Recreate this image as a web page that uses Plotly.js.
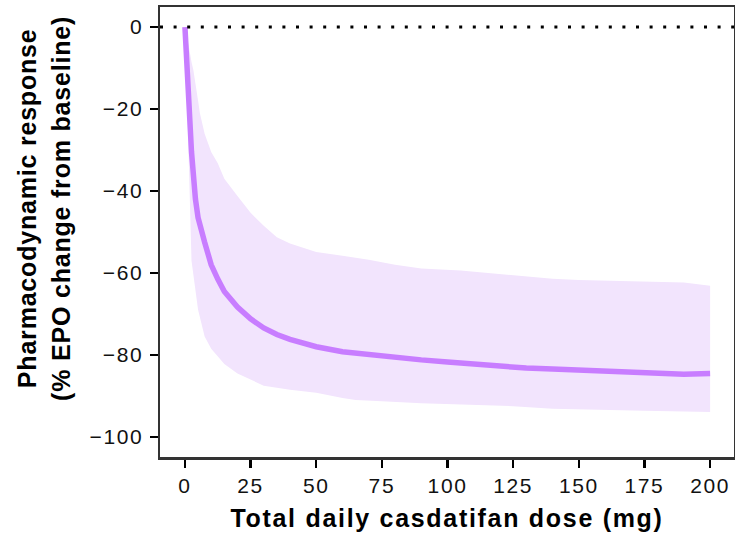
<!DOCTYPE html>
<html>
<head>
<meta charset="utf-8">
<script src="https://cdn.plot.ly/plotly-3.0.1.min.js"></script>
<style>
html,body{margin:0;padding:0;background:#fff;}
#chart{width:735px;height:539px;}
#chart .xtick text, #chart .ytick text{letter-spacing:1.6px;}
#chart .xtitle{letter-spacing:1.7px;}
#chart .annotation-text{letter-spacing:0.8px;}
</style>
</head>
<body>
<div id="chart"></div>
<script>
// Total daily dose (mg)
const doseLine = [0, 1, 2.5, 4, 5, 7.5, 10, 12.5, 15, 20, 25, 30, 35, 40, 50, 60, 75, 90, 100, 110, 120, 130, 140, 150, 175, 190, 200];
// Median EPO % change from baseline
const responseMedian = [0, -12, -30.5, -42, -46.5, -52.5, -58, -61.5, -64.5, -68.3, -71.2, -73.4, -75, -76.2, -78, -79.2, -80.3, -81.2, -81.7, -82.2, -82.9, -83.2, -83.4, -83.7, -84.2, -84.7, -84.5];

const doseBand = [0, 1, 2.5, 3.2, 5, 5.7, 7.5, 10, 12.5, 15, 20, 25, 30, 35, 40, 50, 60, 70, 80, 90, 105, 120, 140, 150, 175, 190, 200];
// Upper bound of prediction interval
const bandUpper = [0, -3, -8.5, -10.5, -18, -21, -26, -30.5, -33.2, -37, -41.2, -45.3, -48.5, -51.3, -52.8, -54.9, -55.8, -56.8, -58, -58.9, -59.4, -60.3, -61.4, -61.7, -62, -62.3, -63.1];

const doseLower = [0, 1, 2.5, 5, 7.5, 10, 15, 20, 30, 40, 50, 60, 65, 75, 90, 100, 125, 140, 150, 175, 200];
// Lower bound of prediction interval
const bandLower = [0, -22, -57, -69, -75.5, -78.5, -82.2, -84.5, -87.5, -88.5, -89.2, -90.5, -91, -91.3, -91.8, -92, -92.5, -93.1, -93.2, -93.6, -93.9];

const xTicks = [0, 25, 50, 75, 100, 125, 150, 175, 200];
const yTicks = [0, -20, -40, -60, -80, -100];

const polyX = doseBand.concat(doseLower.slice().reverse());
const polyY = bandUpper.concat(bandLower.slice().reverse());

const traces = [
  {
    x: polyX, y: polyY, type: 'scatter', mode: 'lines',
    fill: 'toself', fillcolor: 'rgb(242,228,253)',
    line: {width: 0, color: 'rgba(0,0,0,0)'}, hoverinfo: 'skip', showlegend: false
  },
  {
    x: doseLine, y: responseMedian, type: 'scatter', mode: 'lines',
    line: {color: 'rgb(200,125,255)', width: 5.5}, showlegend: false
  }
];

const fontFam = '"Liberation Sans", Arial, sans-serif';
const layout = {
  width: 735, height: 539,
  margin: {l: 160, r: 1, t: 7, b: 82},
  paper_bgcolor: '#fff', plot_bgcolor: '#fff',
  showlegend: false,
  font: {family: fontFam, size: 21, color: '#000'},
  xaxis: {
    range: [-9.5, 209.1], tickvals: xTicks, ticktext: xTicks.map(String),
    ticks: 'outside', ticklen: 8, tickwidth: 2.5, tickcolor: '#000',
    showgrid: false, zeroline: false,
    showline: true, linecolor: '#333', linewidth: 2.5, mirror: true,
    tickfont: {family: fontFam, size: 21, color: '#111'},
    title: {text: '<b>Total daily casdatifan dose (mg)</b>', font: {family: fontFam, size: 25, color: '#000'}, standoff: 14}
  },
  yaxis: {
    range: [-104.9, 4.9], tickvals: yTicks, ticktext: yTicks.map(v => v < 0 ? '\u2212' + Math.abs(v) : String(v)),
    ticks: 'outside', ticklen: 8, tickwidth: 2.5, tickcolor: '#000',
    ticklabelstandoff: 2,
    showgrid: false, zeroline: false,
    showline: true, linecolor: '#333', linewidth: 2.5, mirror: true,
    tickfont: {family: fontFam, size: 21, color: '#111'}
  },
  shapes: [
    {type: 'line', xref: 'paper', x0: 0, x1: 1, yref: 'y', y0: 0, y1: 0,
     line: {color: '#000', width: 3, dash: '3px,10.6px'}}
  ],
  annotations: [
    {text: '<b>Pharmacodynamic response</b>', xref: 'paper', yref: 'paper', x: -0.231, y: 0.553,
     textangle: -90, showarrow: false, xanchor: 'center', yanchor: 'middle',
     font: {family: fontFam, size: 25, color: '#000'}},
    {text: '<b>(% EPO change from baseline)</b>', xref: 'paper', yref: 'paper', x: -0.1715, y: 0.553,
     textangle: -90, showarrow: false, xanchor: 'center', yanchor: 'middle',
     font: {family: fontFam, size: 25, color: '#000'}}
  ]
};

Plotly.newPlot('chart', traces, layout, {displayModeBar: false, staticPlot: true});
</script>
</body>
</html>
